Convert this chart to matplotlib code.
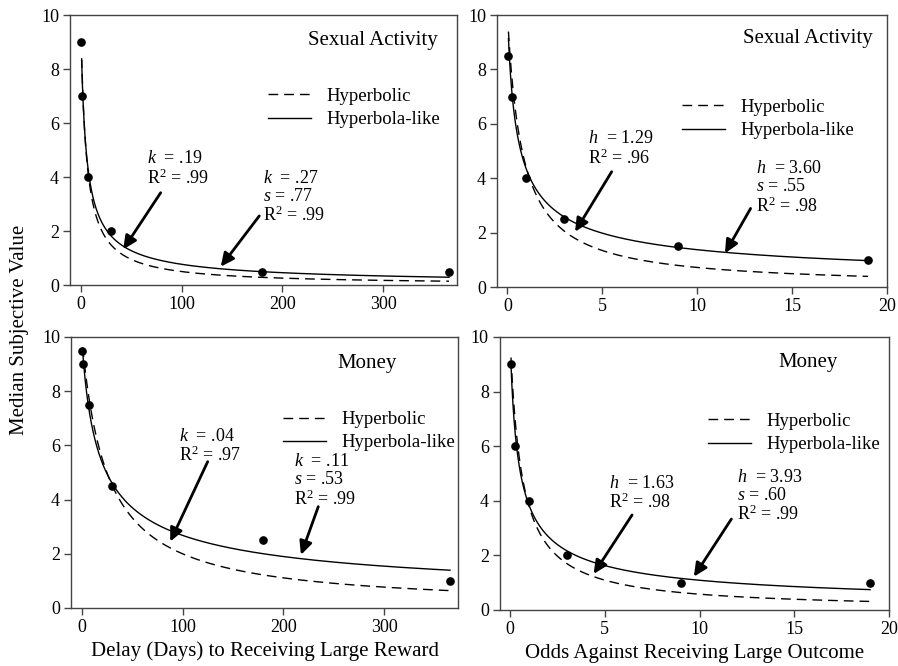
import numpy as np
import matplotlib
matplotlib.use("Agg")
import matplotlib.pyplot as plt
from matplotlib.lines import Line2D

plt.rcParams['font.family'] = ['Liberation Serif', 'DejaVu Serif']
plt.rcParams['mathtext.fontset'] = 'custom'
plt.rcParams['mathtext.rm'] = 'Liberation Serif'
plt.rcParams['mathtext.it'] = 'Liberation Serif:italic'

# ---------------- data ----------------
delay_days = [0.25, 1, 7, 30, 180, 365]
sex_delay_values = [9.0, 7.0, 4.0, 2.0, 0.5, 0.5]
money_delay_values = [9.5, 9.0, 7.5, 4.5, 2.5, 1.0]

odds_against = [0.05, 0.25, 1, 3, 9, 19]
sex_prob_values = [8.5, 7.0, 4.0, 2.5, 1.5, 1.0]
money_prob_values = [9.0, 6.0, 4.0, 2.0, 1.0, 1.0]

amount = 10.0
# fitted parameters: (hyperbolic k/h), (hyperbola-like k/h, s)
sex_delay_hyp = 0.19
sex_delay_like = (0.27, 0.77)
money_delay_hyp = 0.04
money_delay_like = (0.11, 0.53)
sex_prob_hyp = 1.29
sex_prob_like = (3.60, 0.55)
money_prob_hyp = 1.63
money_prob_like = (3.93, 0.60)

delay_ticks = [0, 100, 200, 300]
odds_ticks = [0, 5, 10, 15, 20]
value_ticks = [0, 2, 4, 6, 8, 10]

fig = plt.figure(figsize=(8.98, 6.66), dpi=100)

axes_rects = {
    'tl': [0.0780, 0.572, 0.431, 0.4054],
    'tr': [0.5535, 0.569, 0.4343, 0.4084],
    'bl': [0.0791, 0.0871, 0.431, 0.4069],
    'br': [0.5568, 0.0841, 0.4332, 0.410],
}

spine_col = '#444444'
dash_pat = (7, 4.3)


def style(ax, xlim, xticks):
    ax.set_xlim(*xlim)
    ax.set_ylim(0, 10)
    ax.set_xticks(xticks)
    ax.set_yticks(value_ticks)
    for sp in ax.spines.values():
        sp.set_color(spine_col)
        sp.set_linewidth(1.0)
    ax.tick_params(direction='out', length=5, width=1, color=spine_col,
                   labelsize=13, pad=3)


def panel(key, x, y, hyp, like, xmin, xmax, xlim, xticks, title, title_pos,
          leg_anchor, notes):
    ax = fig.add_axes(axes_rects[key])
    style(ax, xlim, xticks)
    xs = np.geomspace(xmin, xmax, 600)
    ax.plot(xs, amount / (1 + hyp * xs), color='black', lw=1.0,
            dashes=dash_pat)
    k, s = like
    ax.plot(xs, amount / (1 + k * xs) ** s, color='black', lw=1.0)
    ax.plot(x, y, 'o', color='black', ms=5.2, clip_on=False, zorder=5)
    ax.text(title_pos[0], title_pos[1], title, transform=ax.transAxes,
            ha='right', va='center', fontsize=15)
    handles = [Line2D([], [], color='black', lw=1.0, dashes=dash_pat),
               Line2D([], [], color='black', lw=1.0)]
    ax.legend(handles, ['Hyperbolic', 'Hyperbola-like'], loc='upper left',
              bbox_to_anchor=leg_anchor, frameon=False, fontsize=13.5,
              handlelength=2.3, handletextpad=0.8, labelspacing=0.33,
              borderaxespad=0, borderpad=0)
    for txt, tpos, tail, head in notes:
        ax.text(tpos[0], tpos[1], txt, ha='left', va='top', fontsize=13,
                linespacing=1.08)
        ax.annotate('', xy=head, xytext=tail,
                    arrowprops=dict(arrowstyle='-|>,head_length=0.8,head_width=0.38',
                                    lw=2.0, color='black', shrinkA=0, shrinkB=0))
    return ax


panel('tl', delay_days, sex_delay_values, sex_delay_hyp, sex_delay_like,
      1, 365, (-10.5, 373), delay_ticks, 'Sexual Activity', (0.951, 0.904),
      (0.512, 0.731),
      [('$k$  = .19\nR$^2$ = .99', (65.7, 5.0), (79.3, 3.42), (42.2, 1.32)),
       ('$k$  = .27\n$s$ = .77\nR$^2$ = .99', (180.7, 4.27), (177, 2.56), (138.8, 0.68))])

panel('tr', odds_against, sex_prob_values, sex_prob_hyp, sex_prob_like,
      0.05, 19, (-0.55, 20), odds_ticks, 'Sexual Activity', (0.964, 0.912),
      (0.474, 0.692),
      [('$h$  = 1.29\nR$^2$ = .96', (4.25, 5.77), (5.49, 4.24), (3.56, 2.03)),
       ('$h$  = 3.60\n$s$ = .55\nR$^2$ = .98', (13.1, 4.67), (12.81, 2.89), (11.46, 1.24))])

axbl = panel('bl', delay_days, money_delay_values, money_delay_hyp, money_delay_like,
             1, 365, (-10.5, 373), delay_ticks, 'Money', (0.842, 0.904),
             (0.548, 0.727),
             [('$k$  = .04\nR$^2$ = .97', (96.7, 6.65), (124.9, 5.40), (87.8, 2.45)),
              ('$k$  = .11\n$s$ = .53\nR$^2$ = .99', (210.7, 5.72), (234.5, 3.74), (217.3, 1.96))])

axbr = panel('br', odds_against, money_prob_values, money_prob_hyp, money_prob_like,
             0.05, 19, (-0.53, 20), odds_ticks, 'Money', (0.869, 0.905),
             (0.535, 0.722),
             [('$h$  = 1.63\nR$^2$ = .98', (5.2, 4.95), (6.44, 3.48), (4.41, 1.32)),
              ('$h$  = 3.93\n$s$ = .60\nR$^2$ = .99', (12.0, 5.17), (11.68, 3.33), (9.70, 1.22))])

axbl.set_xlabel('Delay (Days) to Receiving Large Reward', fontsize=15, labelpad=4)
axbr.set_xlabel('Odds Against Receiving Large Outcome', fontsize=15, labelpad=4)
fig.text(0.022, 0.505, 'Median Subjective Value', rotation=90, ha='center',
         va='center', fontsize=15)

fig.savefig('out.png', dpi=100)
